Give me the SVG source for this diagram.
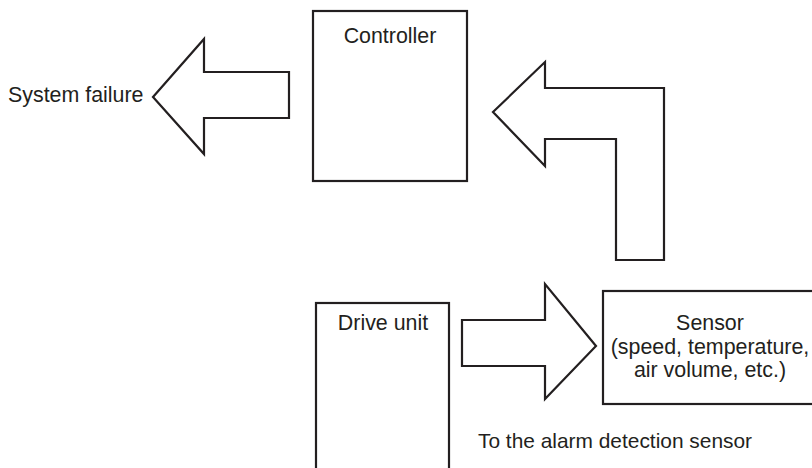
<svg xmlns="http://www.w3.org/2000/svg" width="812" height="468" viewBox="0 0 812 468">
<style>
.box{fill:#fff;stroke:#231f20;stroke-width:2.2}
.arr{fill:#fff;stroke:#231f20;stroke-width:2.2;stroke-linejoin:miter}
text{font-family:"Liberation Sans",Arial,sans-serif;font-size:21.4px;fill:#231f20}
.c{text-anchor:middle}
.s{font-size:20.9px}
</style>
<rect width="812" height="468" fill="#fff"/>
<g id="controller">
<rect class="box" x="313" y="11" width="154" height="170"/>
<text class="c" x="390" y="43">Controller</text>
</g>
<g id="drive-unit">
<rect class="box" x="316" y="303" width="133" height="180"/>
<text class="c" x="383" y="330">Drive unit</text>
</g>
<g id="sensor">
<rect class="box" x="603" y="291" width="220" height="113"/>
<text class="c" x="710" y="330">Sensor</text>
<text class="c" x="710" y="353.5">(speed, temperature,</text>
<text class="c" x="710" y="377">air volume, etc.)</text>
</g>
<g id="system-failure">
<text x="8" y="102">System failure</text>
</g>
<g id="alarm-label">
<text class="s" x="478" y="448">To the alarm detection sensor</text>
</g>
<g id="connectors">
<polygon class="arr" points="153,97 204,39 204,72 289,72 289,118 204,118 204,154"/>
<polygon class="arr" points="493,112 545,62 545,88 664,88 664,260 616,260 616,139 545,139 545,166"/>
<polygon class="arr" points="596,346 545,284 545,320 462,320 462,366 545,366 545,399"/>
</g>
</svg>
